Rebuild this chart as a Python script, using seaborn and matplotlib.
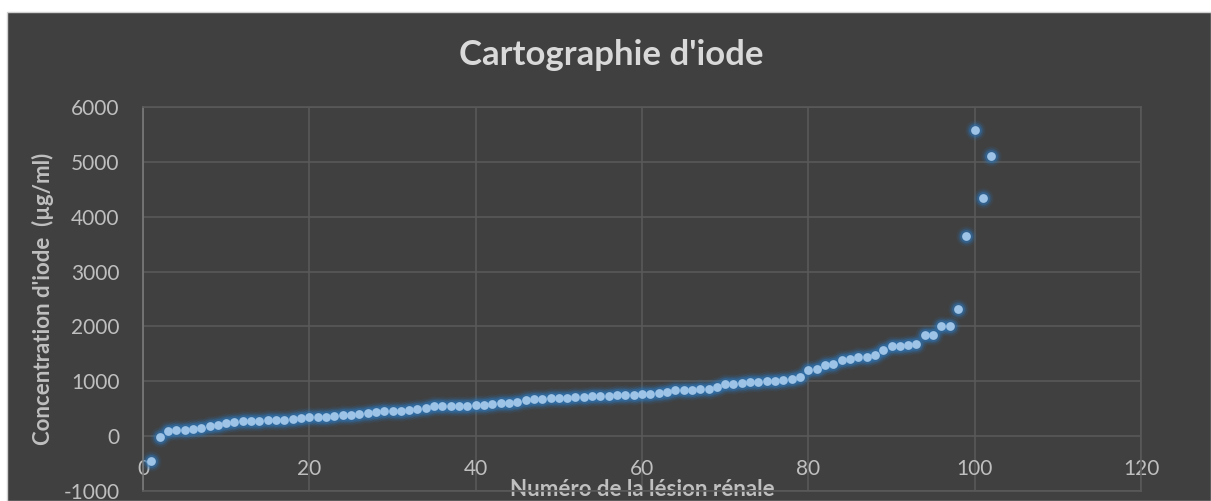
import matplotlib
matplotlib.use("Agg")
import matplotlib.pyplot as plt
from matplotlib.patches import Rectangle
import seaborn as sns
import pandas as pd

# concentration d'iode (µg/ml), une valeur par lésion
concentration = [
    -450, -20, 85, 105, 110, 125, 145, 180, 200, 235,
    255, 270, 272, 275, 290, 292, 295, 310, 325, 345,
    347, 358, 375, 382, 392, 395, 430, 447, 450, 465,
    467, 470, 497, 506, 545, 546, 547, 548, 550, 564,
    576, 578, 600, 612, 630, 655, 673, 685, 697, 698,
    700, 709, 711, 727, 728, 730, 745, 747, 758, 760,
    764, 782, 806, 845, 846, 848, 855, 858, 897, 952,
    945, 964, 980, 982, 1000, 1002, 1018, 1036, 1085, 1206,
    1224, 1305, 1308, 1388, 1406, 1442, 1448, 1473, 1576, 1636,
    1650, 1655, 1685, 1836, 1848, 2006, 2012, 2309, 3655, 5582,
    4333, 5109,
]
lesion = list(range(1, len(concentration) + 1))

x_ticks = [0, 20, 40, 60, 80, 100, 120]
y_ticks = [-1000, 0, 1000, 2000, 3000, 4000, 5000, 6000]

df = pd.DataFrame({"lesion": lesion, "concentration": concentration})

bg = "#404040"
grid_col = "#595959"
txt_col = "#bfbfbf"

sns.set_style("dark")
plt.rcParams["font.family"] = ["Lato", "DejaVu Sans"]

fig = plt.figure(figsize=(12.11, 5.01), dpi=100, facecolor="white")
# fond sombre du graphique (bordure blanche a gauche et en haut)
fig.patches.append(Rectangle((7 / 1211, 0), 1 - 7 / 1211, 1 - 12 / 501, transform=fig.transFigure,
                             facecolor=bg, edgecolor="#d0d0d0", linewidth=1, zorder=-5))

ax = fig.add_axes([143 / 1211, 10 / 501, 998 / 1211, 384 / 501])
ax.set_facecolor(bg)

# effet "glow" autour des points
for size, alpha in [(210, 0.12), (135, 0.25), (85, 0.45)]:
    sns.scatterplot(data=df, x="lesion", y="concentration", ax=ax, s=size, color="#2e75b6",
                    alpha=alpha, linewidth=0, legend=False, zorder=3)
sns.scatterplot(data=df, x="lesion", y="concentration", ax=ax, s=40, color="#9dc3e6",
                linewidth=0, legend=False, zorder=4)

ax.set_xlim(0, 120)
ax.set_ylim(-1000, 6000)
ax.set_xticks(x_ticks)
ax.set_yticks(y_ticks)
ax.set_xticklabels([str(t) for t in x_ticks])
ax.set_yticklabels([str(t) for t in y_ticks])
ax.grid(True, color=grid_col, linewidth=1.2)
ax.set_axisbelow(True)
for side in ["top", "right", "bottom"]:
    ax.spines[side].set_visible(True)
    ax.spines[side].set_color(grid_col)
    ax.spines[side].set_linewidth(1.2)
ax.spines["left"].set_visible(True)
ax.spines["left"].set_color("#7a7a7a")
ax.spines["left"].set_linewidth(1.2)

ax.tick_params(axis="both", length=0, labelsize=15, labelcolor=txt_col)
ax.tick_params(axis="y", pad=17)
ax.tick_params(axis="x", pad=-23)

ax.set_xlabel("Numéro de la lésion rénale", fontsize=16, fontweight="bold", color=txt_col, va="center")
ax.xaxis.set_label_coords(0.5, 0.005)
ax.set_ylabel("Concentration d'iode  (µg/ml)", fontsize=16, fontweight="bold", color=txt_col, va="center")
ax.yaxis.set_label_coords(-0.100, 0.5)

fig.suptitle("Cartographie d'iode", x=611 / 1211, y=1 - 55 / 501, va="center",
             fontsize=25, fontweight="bold", color="#d9d9d9")

fig.savefig("out.png", dpi=100, facecolor=fig.get_facecolor())
